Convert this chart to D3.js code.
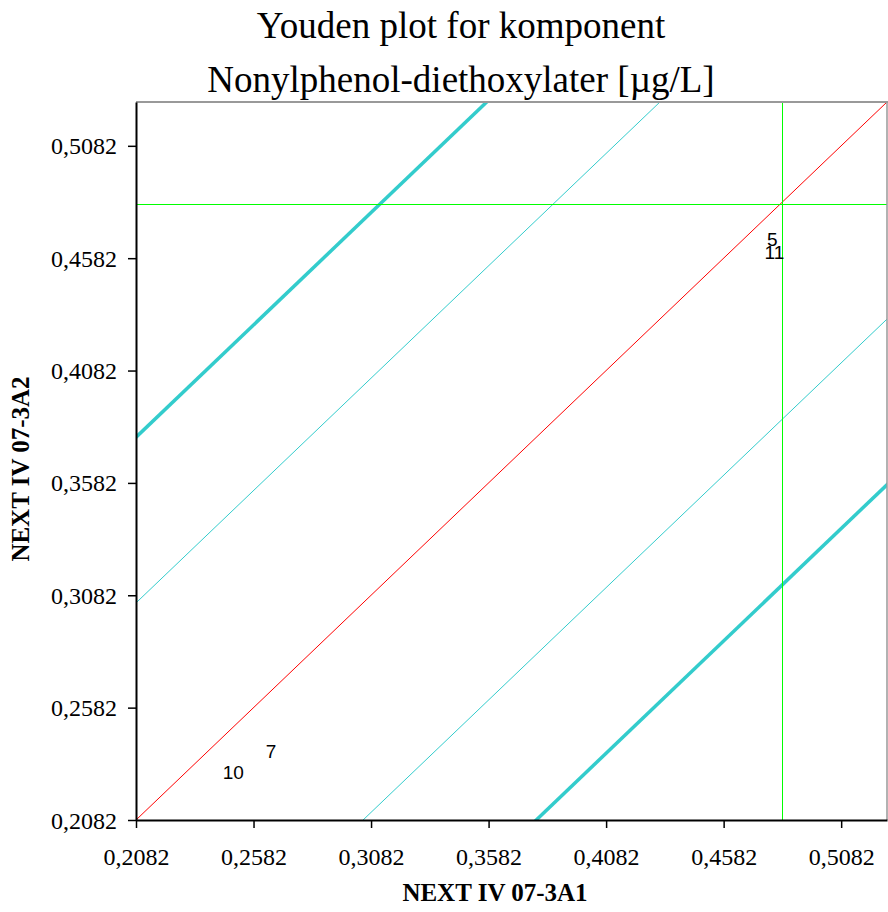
<!DOCTYPE html>
<html><head><meta charset="utf-8">
<script src="https://cdn.jsdelivr.net/npm/d3@7"></script>
<style>body{margin:0;background:#fff}svg{display:block}</style>
</head><body>
<svg id="c" width="888" height="912"></svg>
<script>
// ---- data ----
const titleLines = ["Youden plot for komponent", "Nonylphenol-diethoxylater [µg/L]"];
const xLabel = "NEXT IV 07-3A1";
const yLabel = "NEXT IV 07-3A2";
const tickValues = [0.2082, 0.2582, 0.3082, 0.3582, 0.4082, 0.4582, 0.5082];
const domainMin = 0.2082, domainMax = 0.5277;
const labLabels = ["5", "11", "10", "7"];
const labX = [0.4789, 0.4798, 0.2496, 0.2656];
const labY = [0.4663, 0.4608, 0.2294, 0.2385];
const medianX = 0.4830, medianY = 0.4823;
const thinOffset = 0.0966, thickOffset = 0.1703;

const svg = d3.select("#c");
const L = 136, R = 887, T = 102, B = 820;
const x = d3.scaleLinear().domain([domainMin, domainMax]).range([L, R]);
const y = d3.scaleLinear().domain([domainMin, domainMax]).range([B, T]);

svg.append("clipPath").attr("id", "pc").append("rect")
  .attr("x", L).attr("y", T).attr("width", R - L).attr("height", B - T);
const g = svg.append("g").attr("clip-path", "url(#pc)");

function diag(offset, color, w) {
  const x0 = domainMin - 0.5, x1 = domainMax + 0.5;
  g.append("line")
    .attr("x1", x(x0)).attr("y1", y(x0 + offset))
    .attr("x2", x(x1)).attr("y2", y(x1 + offset))
    .attr("stroke", color).attr("stroke-width", w);
}
diag(thickOffset, "#33CCCC", 3.5);
diag(thinOffset, "#33CCCC", 1);
diag(0, "#FF0000", 1);
diag(-thinOffset, "#33CCCC", 1);
diag(-thickOffset, "#33CCCC", 3.5);

const gx = Math.round(x(medianX)) + 0.5, gy = Math.round(y(medianY)) + 0.5;
g.append("line").attr("x1", gx).attr("x2", gx).attr("y1", T).attr("y2", B)
  .attr("stroke", "#00FF00").attr("stroke-width", 1).attr("shape-rendering", "crispEdges");
g.append("line").attr("x1", L).attr("x2", R).attr("y1", gy).attr("y2", gy)
  .attr("stroke", "#00FF00").attr("stroke-width", 1).attr("shape-rendering", "crispEdges");

// frame (top/right gray)
svg.append("line").attr("x1", L).attr("x2", R + 1).attr("y1", T).attr("y2", T).attr("stroke", "#999").attr("stroke-width", 2);
svg.append("line").attr("x1", R).attr("x2", R).attr("y1", T).attr("y2", B).attr("stroke", "#999").attr("stroke-width", 1.5);

// point labels
labLabels.forEach((t, i) => {
  svg.append("text").attr("x", x(labX[i])).attr("y", y(labY[i]))
    .attr("text-anchor", "middle").attr("dominant-baseline", "central")
    .attr("font-family", "Liberation Sans, Arial, sans-serif").attr("font-size", 19)
    .text(t);
});

const fmt = d => d.toFixed(4).replace(".", ",");
const xa = svg.append("g").attr("transform", `translate(0,${B})`)
  .call(d3.axisBottom(x).tickValues(tickValues).tickFormat(fmt).tickSize(8).tickSizeOuter(0));
const ya = svg.append("g").attr("transform", `translate(${L},0)`)
  .call(d3.axisLeft(y).tickValues(tickValues).tickFormat(fmt).tickSize(8).tickSizeOuter(0));
[xa, ya].forEach(a => {
  a.select(".domain").attr("stroke", "#000").attr("stroke-width", 2);
  a.selectAll(".tick line").attr("stroke", "#000").attr("stroke-width", 1.5);
  a.selectAll(".tick text").attr("font-family", "Liberation Serif, Times New Roman, serif")
    .attr("font-size", 24).attr("fill", "#000");
});
xa.selectAll(".tick text").attr("dy", null).attr("y", 37).attr("dominant-baseline", "central");
ya.selectAll(".tick text").attr("dy", null).attr("x", -19).attr("dominant-baseline", "central");

// titles
svg.append("text").attr("x", 461).attr("y", 38).attr("text-anchor", "middle")
  .attr("font-family", "Liberation Serif, Times New Roman, serif").attr("font-size", 37).text(titleLines[0]);
svg.append("text").attr("x", 461).attr("y", 92).attr("text-anchor", "middle")
  .attr("font-family", "Liberation Serif, Times New Roman, serif").attr("font-size", 37).text(titleLines[1]);

svg.append("text").attr("x", 495).attr("y", 901).attr("text-anchor", "middle")
  .attr("font-family", "Liberation Serif, Times New Roman, serif").attr("font-weight", "bold")
  .attr("font-size", 25).text(xLabel);
svg.append("text").attr("transform", "translate(29,469) rotate(-90)").attr("text-anchor", "middle")
  .attr("font-family", "Liberation Serif, Times New Roman, serif").attr("font-weight", "bold")
  .attr("font-size", 25).text(yLabel);
</script>
</body></html>
